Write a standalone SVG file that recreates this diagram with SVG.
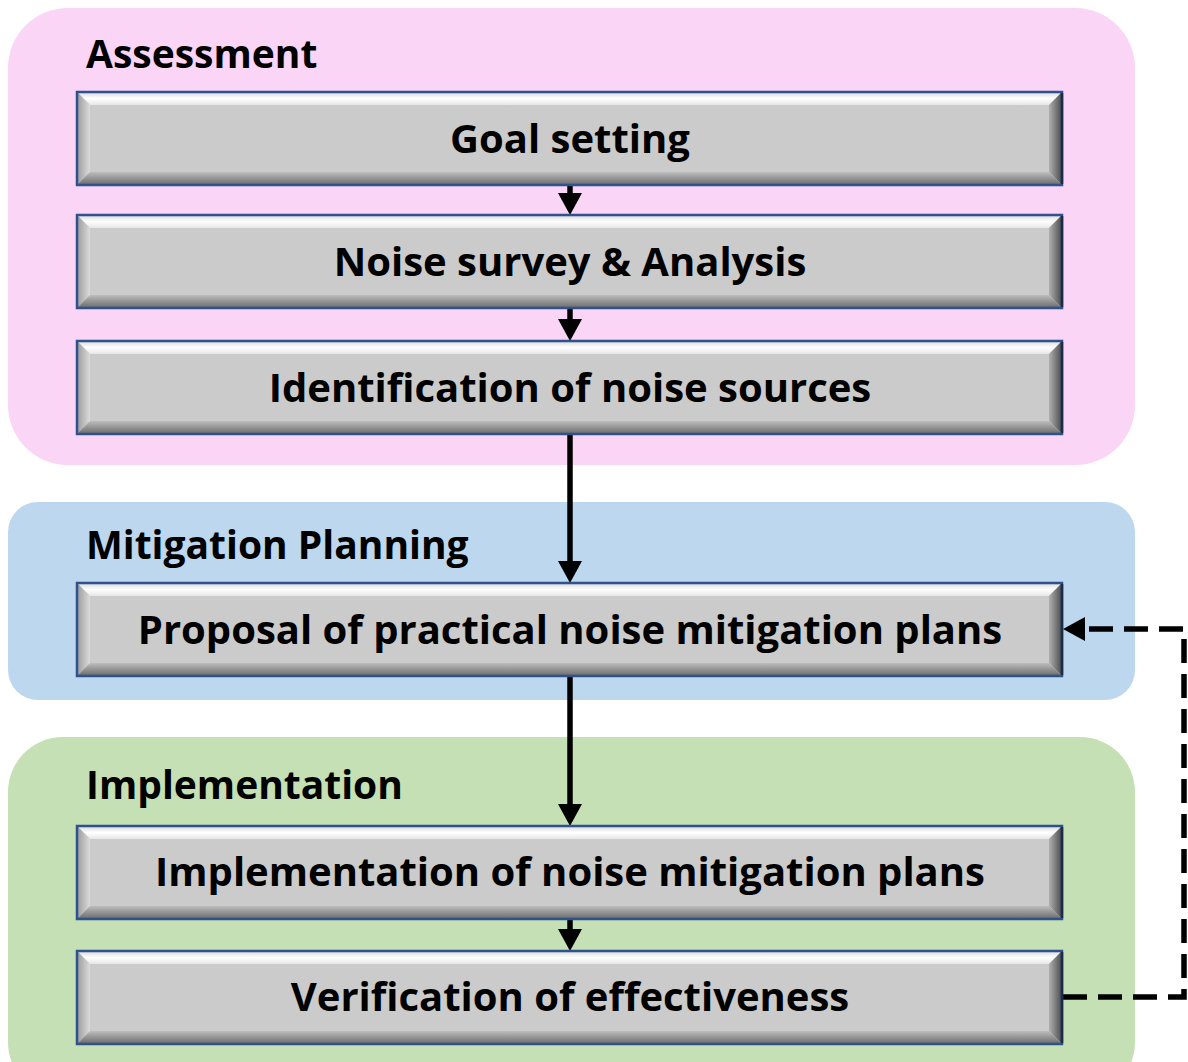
<svg xmlns="http://www.w3.org/2000/svg" xmlns:xlink="http://www.w3.org/1999/xlink" width="1188" height="1062" viewBox="0 0 1188 1062">
<style>
.t{font-family:"Open Sans","Noto Sans","Liberation Sans",sans-serif;font-weight:700;fill:#000}
.bt{font-size:40px;text-anchor:middle}
.pt{font-size:39px}
.ln{stroke:#000;stroke-width:5.5;fill:none}
.hd{fill:#000}
.dash{stroke:#000;stroke-width:5.5;fill:none;stroke-dasharray:24 11}
</style>
<defs>
<linearGradient id="gTop" x1="0" y1="0" x2="0" y2="1"><stop offset="0" stop-color="#d8d8d8"/><stop offset="0.5" stop-color="#ffffff"/><stop offset="1" stop-color="#e6e6e6"/></linearGradient>
<linearGradient id="gLeft" x1="0" y1="0" x2="1" y2="0"><stop offset="0" stop-color="#9a9a9a"/><stop offset="1" stop-color="#dcdcdc"/></linearGradient>
<linearGradient id="gRight" x1="0" y1="0" x2="1" y2="0"><stop offset="0" stop-color="#b0b0b0"/><stop offset="1" stop-color="#4a4a4a"/></linearGradient>
<linearGradient id="gBot" x1="0" y1="0" x2="0" y2="1"><stop offset="0" stop-color="#bdbdbd"/><stop offset="1" stop-color="#6a6a6a"/></linearGradient>
<g id="bevel">
<rect x="0" y="0" width="985" height="93" fill="#cbcbcb"/>
<polygon points="0,0 985,0 972,13 13,13" fill="url(#gTop)"/>
<polygon points="0,0 13,13 13,80 0,93" fill="url(#gLeft)"/>
<polygon points="985,0 985,93 972,80 972,13" fill="url(#gRight)"/>
<polygon points="0,93 13,80 972,80 985,93" fill="url(#gBot)"/>
<rect x="0" y="0" width="985" height="93" fill="none" stroke="#2f528f" stroke-width="2.5"/>
<line x1="985" y1="1" x2="985" y2="92" stroke="#1c2b48" stroke-width="2.5"/>
</g>
<path id="dn" d="M-12,-22 L12,-22 L0,0 z"/>
</defs>

<g id="panel-assessment">
<rect x="8" y="8" width="1127" height="457" rx="60" fill="#fad5f6"/>
<text class="t pt" x="86" y="68">Assessment</text>
</g>
<g id="panel-mitigation">
<rect x="8" y="502" width="1127" height="198" rx="30" fill="#bdd7ee"/>
<text class="t pt" x="86" y="559">Mitigation Planning</text>
</g>
<g id="panel-implementation">
<rect x="8" y="737" width="1127" height="360" rx="55" fill="#c5e0b4"/>
<text class="t pt" x="86" y="799">Implementation</text>
</g>

<g id="connectors">
<line class="ln" x1="570" y1="185" x2="570" y2="200"/>
<use xlink:href="#dn" x="570" y="215" class="hd"/>
<line class="ln" x1="570" y1="308" x2="570" y2="325"/>
<use xlink:href="#dn" x="570" y="341" class="hd"/>
<line class="ln" x1="570" y1="434" x2="570" y2="567"/>
<use xlink:href="#dn" x="570" y="583" class="hd"/>
<line class="ln" x1="570" y1="676" x2="570" y2="810"/>
<use xlink:href="#dn" x="570" y="826" class="hd"/>
<line class="ln" x1="570" y1="918" x2="570" y2="935"/>
<use xlink:href="#dn" x="570" y="951" class="hd"/>
<polyline class="dash" points="1063,997 1184,997 1184,629 1083,629"/>
<polygon points="1063,629 1085,617 1085,641" class="hd"/>
</g>

<g id="node-goal"><use xlink:href="#bevel" x="77" y="92"/><text class="t bt" x="570" y="153">Goal setting</text></g>
<g id="node-survey"><use xlink:href="#bevel" x="77" y="215"/><text class="t bt" x="570" y="276">Noise survey &amp; Analysis</text></g>
<g id="node-ident"><use xlink:href="#bevel" x="77" y="341"/><text class="t bt" x="570" y="402">Identification of noise sources</text></g>
<g id="node-proposal"><use xlink:href="#bevel" x="77" y="583"/><text class="t bt" x="570" y="644">Proposal of practical noise mitigation plans</text></g>
<g id="node-impl"><use xlink:href="#bevel" x="77" y="826"/><text class="t bt" x="570" y="886">Implementation of noise mitigation plans</text></g>
<g id="node-verify"><use xlink:href="#bevel" x="77" y="951"/><text class="t bt" x="570" y="1011">Verification of effectiveness</text></g>
</svg>
